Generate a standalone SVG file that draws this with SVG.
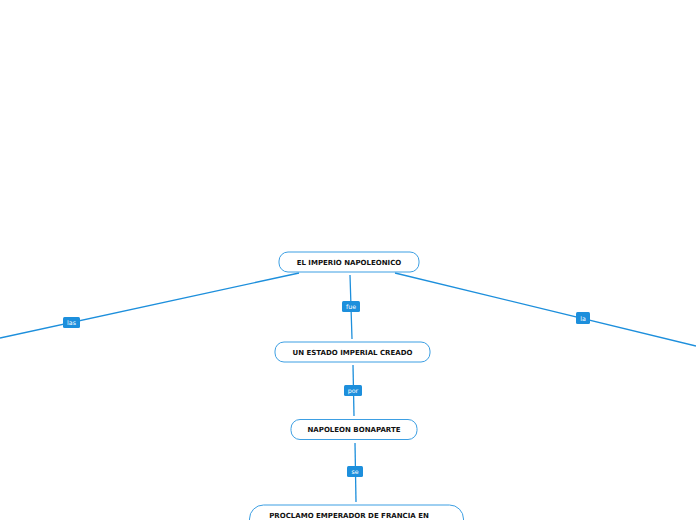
<svg xmlns="http://www.w3.org/2000/svg" width="696" height="520" viewBox="0 0 696 520">
<style>
.node{fill:#fff;stroke:#3d9fe3;stroke-width:1}
.nt{font-family:"DejaVu Sans",Verdana,sans-serif;font-weight:bold;font-size:7px;fill:#111;text-anchor:middle}
.conn{stroke:#1d8fdc;stroke-width:1.3;fill:none}
.lb{fill:#1d8fdc}
.lt{font-family:"DejaVu Sans",Verdana,sans-serif;font-size:6.3px;fill:#fff;text-anchor:middle}
</style>
<rect width="696" height="520" fill="#fff"/>
<g id="connectors">
<line class="conn" x1="299" y1="273" x2="0" y2="338"/>
<line class="conn" x1="395" y1="273" x2="696" y2="346"/>
<line class="conn" x1="350" y1="275" x2="352" y2="339"/>
<line class="conn" x1="353" y1="365" x2="354" y2="416"/>
<line class="conn" x1="355" y1="443" x2="356" y2="502"/>
<rect class="lb" x="63" y="317" width="17" height="11" rx="1.5"/>
<text class="lt" x="71.5" y="324.5">las</text>
<rect class="lb" x="576" y="312" width="14" height="12" rx="1.5"/>
<text class="lt" x="583" y="320.5">la</text>
<rect class="lb" x="342" y="301" width="18" height="11" rx="1.5"/>
<text class="lt" x="351" y="308.5">fue</text>
<rect class="lb" x="344" y="385" width="18" height="11" rx="1.5"/>
<text class="lt" x="353" y="392.5">por</text>
<rect class="lb" x="347" y="466" width="16" height="11" rx="1.5"/>
<text class="lt" x="355" y="473.5">se</text>
</g>
<g id="n1">
<rect class="node" x="279" y="252" width="140" height="20" rx="9"/>
<text class="nt" x="349" y="264.5">EL IMPERIO NAPOLEONICO</text>
</g>
<g id="n2">
<rect class="node" x="275" y="342" width="155" height="20" rx="9"/>
<text class="nt" x="352.5" y="354.5">UN ESTADO IMPERIAL CREADO</text>
</g>
<g id="n3">
<rect class="node" x="291" y="419.5" width="126" height="20" rx="9"/>
<text class="nt" x="354" y="432">NAPOLEON BONAPARTE</text>
</g>
<g id="n4">
<rect class="node" x="249.5" y="505" width="214" height="40" rx="14"/>
<text class="nt" x="349" y="518">PROCLAMO EMPERADOR DE FRANCIA EN</text>
</g>
</svg>
